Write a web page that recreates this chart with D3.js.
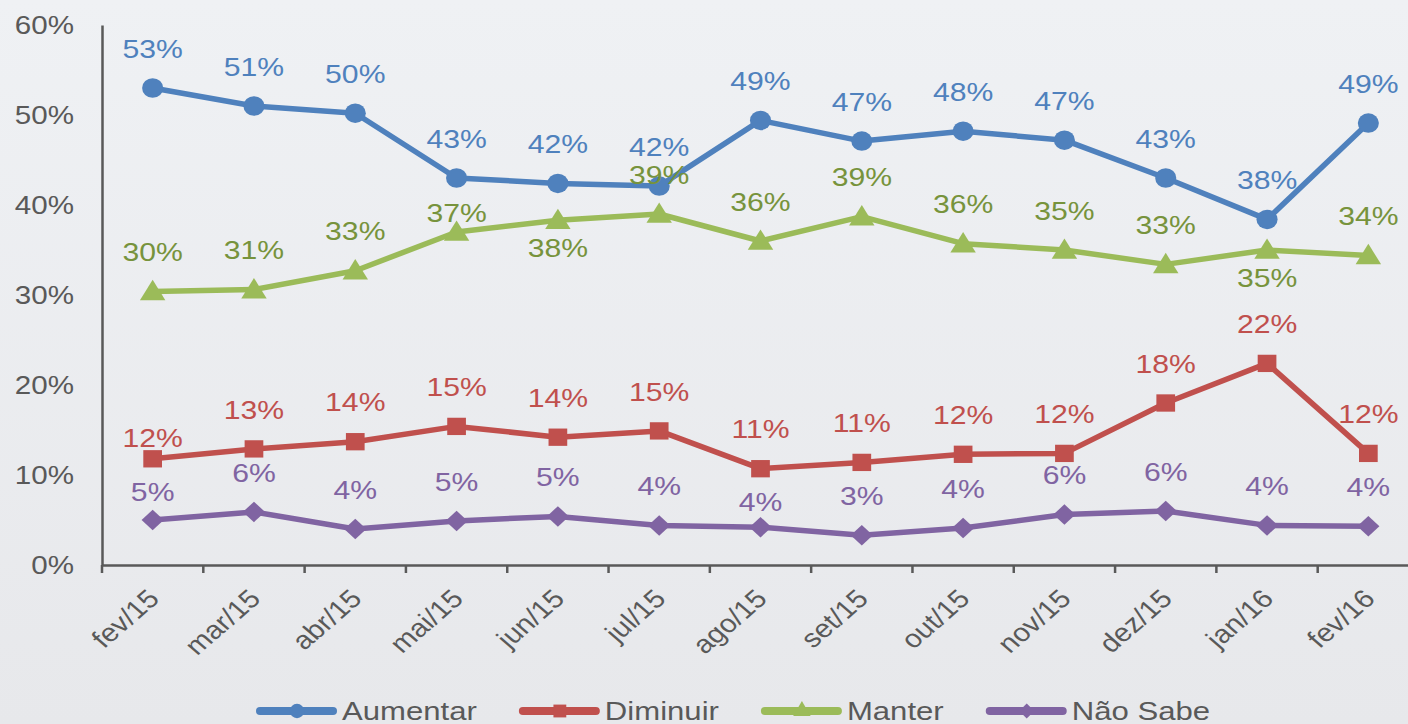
<!DOCTYPE html>
<html>
<head>
<meta charset="utf-8">
<script src="https://cdn.jsdelivr.net/npm/d3@7"></script>
<style>
  html, body { margin: 0; padding: 0; }
  body { width: 1408px; height: 724px; overflow: hidden; background: #eceef1; }
  text { font-family: "Liberation Sans", Arial, sans-serif; }
</style>
</head>
<body>
<script>
// donnees
const categories = ["fev/15", "mar/15", "abr/15", "mai/15", "jun/15", "jul/15", "ago/15",
  "set/15", "out/15", "nov/15", "dez/15", "jan/16", "fev/16"]
const aumentar = [53, 51, 50.2, 43, 42.4, 42.1, 49.4, 47.1, 48.2, 47.2, 43, 38.4, 49.1]
const diminuir = [11.8, 12.9, 13.7, 15.4, 14.2, 14.9, 10.7, 11.4, 12.3, 12.4, 18, 22.4, 12.4]
const manter = [30.4, 30.6, 32.7, 37, 38.3, 39, 36, 38.7, 35.7, 35, 33.4, 35, 34.4]
const naoSabe = [5, 5.9, 4, 4.9, 5.4, 4.4, 4.2, 3.3, 4.1, 5.6, 6, 4.4, 4.3]
const seriesNames = ["Aumentar", "Diminuir", "Manter", "Não Sabe"]
const yTicks = [0, 10, 20, 30, 40, 50, 60]

const width = 1408
const height = 724
const margin = { top: 25, bottom: 159, left: 102, right: -11 }
const stretch = 1.16 // le graphique d'origine est un peu etire en largeur

const styles = [
  { line: "#4f81bd", label: "#4f81bd", marker: "circle" },
  { line: "#c0504d", label: "#c0504d", marker: "square" },
  { line: "#9bbb59", label: "#77933c", marker: "triangle" },
  { line: "#8064a2", label: "#8064a2", marker: "diamond" }
]
// decalage vertical des etiquettes (par defaut au-dessus)
const labelOffsets = { "2-3": -19, "2-4": 28, "2-11": 28, "1-0": -21, "3-0": -28, "3-6": -25 }

const allSeries = [aumentar, diminuir, manter, naoSabe].map((values, i) => ({
  name: seriesNames[i], values: values, style: styles[i], index: i
}))

const svg = d3.select("body").append("svg")
  .attr("width", width)
  .attr("height", height)

const defs = svg.append("defs")
const grad = defs.append("linearGradient").attr("id", "bg")
  .attr("x1", 0).attr("y1", 0).attr("x2", 0).attr("y2", 1)
grad.append("stop").attr("offset", "0%").attr("stop-color", "#eff1f4")
grad.append("stop").attr("offset", "100%").attr("stop-color", "#e7e8eb")
svg.append("rect").attr("width", width).attr("height", height).attr("fill", "url(#bg)")

const x = d3.scaleBand()
  .domain(categories)
  .range([margin.left, width - margin.right])
const y = d3.scaleLinear()
  .domain([0, 60])
  .range([height - margin.bottom, margin.top])
const cx = d => x(d) + x.bandwidth() / 2

// axe y
const yAxis = svg.append("g")
  .attr("transform", `translate(${margin.left},0)`)
  .call(d3.axisLeft(y).tickValues(yTicks).tickSize(0).tickPadding(0).tickFormat(d => d + "%"))
yAxis.select(".domain").attr("stroke", "#595959").attr("stroke-width", 2.5)
yAxis.selectAll(".tick text")
  .attr("x", 0).attr("dy", null)
  .attr("dominant-baseline", "central")
  .attr("text-anchor", "end")
  .attr("font-size", 25.5)
  .attr("fill", "#595959")
  .attr("transform", "translate(-28,0) scale(" + stretch + ",1)")

// axe x : ligne + graduations entre les categories
const xAxis = svg.append("g")
  .attr("transform", `translate(0,${y(0)})`)
  .call(d3.axisBottom(x).tickSize(0).tickFormat(""))
xAxis.select(".domain").attr("stroke", "#595959").attr("stroke-width", 2.5)
xAxis.selectAll(".tick").remove()
xAxis.selectAll("line.sep")
  .data(categories)
  .enter()
  .append("line")
  .attr("class", "sep")
  .attr("x1", d => x(d)).attr("x2", d => x(d))
  .attr("y1", 0).attr("y2", 8)
  .attr("stroke", "#595959").attr("stroke-width", 2.5)
xAxis.selectAll("text.cat")
  .data(categories)
  .enter()
  .append("text")
  .attr("class", "cat")
  .attr("transform", d => `translate(${cx(d) + 1},${29}) scale(${stretch},1) rotate(-45)`)
  .attr("text-anchor", "end")
  .attr("dominant-baseline", "central")
  .attr("font-size", 25.5)
  .attr("fill", "#595959")
  .text(d => d)

// symboles
function markerPath(type, size) {
  if (type === "circle") return d3.symbol(d3.symbolCircle, size)()
  if (type === "square") return d3.symbol(d3.symbolSquare, size)()
  if (type === "triangle") return d3.symbol(d3.symbolTriangle, size)()
  const r = Math.sqrt(size / 2)
  return `M0,${-r}L${r},0L0,${r}L${-r},0Z`
}
const markerSize = { circle: 300, square: 300, triangle: 240, diamond: 210 }

const line = d3.line()
  .x((d, i) => cx(categories[i]))
  .y(d => y(d))

allSeries.forEach(s => {
  const g = svg.append("g")
  g.append("path")
    .datum(s.values)
    .attr("d", line)
    .attr("fill", "none")
    .attr("stroke", s.style.line)
    .attr("stroke-width", 5.5)
    .attr("stroke-linejoin", "round")
  g.selectAll("path.mk")
    .data(s.values)
    .enter()
    .append("path")
    .attr("class", "mk")
    .attr("d", markerPath(s.style.marker, markerSize[s.style.marker]))
    .attr("transform", (d, i) => `translate(${cx(categories[i])},${y(d) + (s.style.marker === "triangle" ? 2 : 0)}) scale(1.08,1)`)
    .attr("fill", s.style.line)
})

// etiquettes de donnees
allSeries.forEach(s => {
  svg.append("g").selectAll("text")
    .data(s.values)
    .enter()
    .append("text")
    .attr("transform", (d, i) => {
      const off = labelOffsets[s.index + "-" + i] !== undefined ? labelOffsets[s.index + "-" + i] : -39
      return `translate(${cx(categories[i])},${y(d) + off}) scale(${stretch},1)`
    })
    .attr("text-anchor", "middle")
    .attr("dominant-baseline", "central")
    .attr("font-size", 26)
    .attr("fill", s.style.label)
    .text(d => Math.round(d) + "%")
})

// legende
const legendStretch = 1.22
const legend = svg.append("g").attr("transform", "translate(256,711)")
let lx = 0
allSeries.forEach(s => {
  const item = legend.append("g").attr("transform", `translate(${lx},0)`)
  item.append("line")
    .attr("x1", 4).attr("x2", 77).attr("y1", 0).attr("y2", 0)
    .attr("stroke", s.style.line).attr("stroke-width", 8).attr("stroke-linecap", "round")
  item.append("path")
    .attr("d", markerPath(s.style.marker, markerSize[s.style.marker] * 0.55))
    .attr("transform", "translate(41,0)")
    .attr("fill", s.style.line)
  const t = item.append("text")
    .attr("transform", `translate(86,0) scale(${legendStretch},1)`)
    .attr("dominant-baseline", "central")
    .attr("font-size", 25.5)
    .attr("fill", "#595959")
    .text(s.name)
  lx += 86 + t.node().getComputedTextLength() * legendStretch + 42
})
</script>
</body>
</html>
